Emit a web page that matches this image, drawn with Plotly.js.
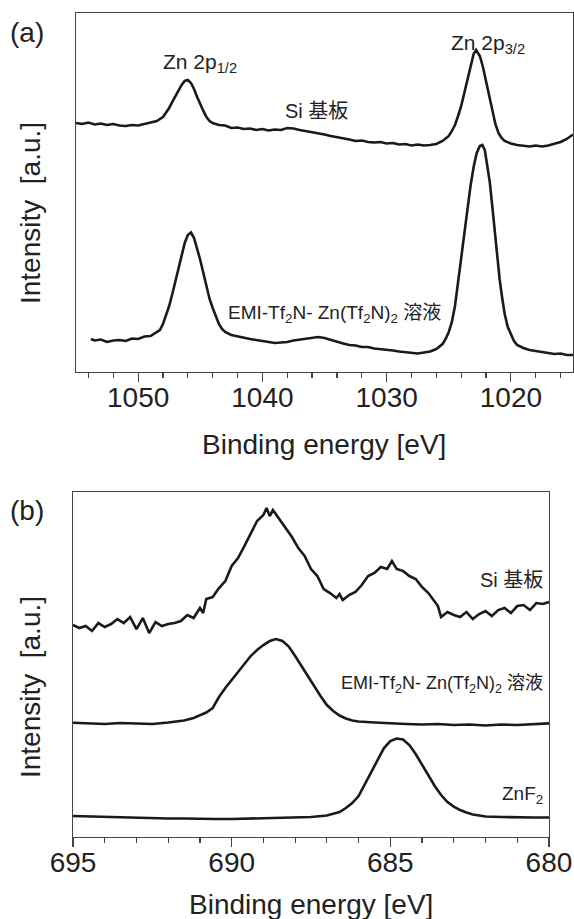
<!DOCTYPE html>
<html>
<head>
<meta charset="utf-8">
<script src="https://cdn.plot.ly/plotly-3.0.1.min.js"></script>
<style>
html,body{margin:0;padding:0;background:#fff;}
#chart{width:574px;height:919px;}
</style>
</head>
<body>
<div id="chart"></div>
<script>
// ---------- Panel (a): Zn 2p ----------
const energyA_Si = [1055.0,1054.5,1054.0,1053.5,1053.0,1052.5,1052.0,1051.5,1051.0,1050.5,1050.0,1049.5,1049.0,1048.5,1048.0,1047.75,1047.5,1047.25,1047.0,1046.75,1046.5,1046.25,1046.0,1045.75,1045.5,1045.25,1045.0,1044.75,1044.5,1044.25,1044.0,1043.5,1043.0,1042.5,1042.0,1041.5,1041.0,1040.5,1040.0,1039.5,1039.0,1038.5,1038.0,1037.5,1037.0,1036.5,1036.0,1035.5,1035.0,1034.5,1034.0,1033.5,1033.0,1032.5,1032.0,1031.5,1031.0,1030.5,1030.0,1029.5,1029.0,1028.5,1028.0,1027.5,1027.0,1026.5,1026.0,1025.5,1025.0,1024.75,1024.5,1024.25,1024.0,1023.75,1023.5,1023.25,1023.0,1022.8,1022.5,1022.25,1022.0,1021.75,1021.5,1021.25,1021.0,1020.75,1020.5,1020.0,1019.5,1019.0,1018.5,1018.0,1017.5,1017.0,1016.5,1016.0,1015.5,1015.0];
const intensityA_Si = [249,248,249.5,247.5,248.5,247,248,246.5,246,247,246.5,248,249,251,255,259,264,270,276,282,287,291,292,289,283,275,267,261,255,251,249,247,246.5,244,244.5,243,243.5,242,243,241.5,242.5,242,244,243.5,242,241,240,238.5,237.5,236,235,233.5,232.5,231,231.5,230,229.5,230,228.5,229,227.5,228,226.5,227.5,226.5,227,228,231,236,241,247,256,266,279,293,307,318,322,316,305,291,276,261,248,239,234,231,228.5,227,226,225.5,226.5,225.5,226.5,228,230,233,237.5];

const energyA_Sol = [1053.8,1053.5,1053.0,1052.5,1052.0,1051.5,1051.0,1050.5,1050.0,1049.5,1049.0,1048.5,1048.25,1048.0,1047.75,1047.5,1047.25,1047.0,1046.75,1046.5,1046.25,1046.0,1045.75,1045.5,1045.25,1045.0,1044.75,1044.5,1044.25,1044.0,1043.75,1043.5,1043.25,1043.0,1042.5,1042.0,1041.5,1041.0,1040.5,1040.0,1039.5,1039.0,1038.5,1038.0,1037.5,1037.0,1036.5,1036.0,1035.5,1035.0,1034.5,1034.0,1033.5,1033.0,1032.5,1032.0,1031.5,1031.0,1030.5,1030.0,1029.5,1029.0,1028.5,1028.0,1027.5,1027.0,1026.5,1026.0,1025.5,1025.25,1025.0,1024.75,1024.5,1024.25,1024.0,1023.75,1023.5,1023.25,1023.0,1022.75,1022.5,1022.3,1022.1,1021.9,1021.7,1021.5,1021.3,1021.1,1020.9,1020.7,1020.5,1020.25,1020.0,1019.75,1019.5,1019.0,1018.5,1018.0,1017.5,1017.0,1016.5,1016.0,1015.5,1015.0];
const intensityA_Sol = [33,31.5,32.5,30,31.5,32,31,33.5,33,35.5,36,39.5,42,48,56,66,78,91,103,117,129,137,139.5,134,124,112,99,85,73,64,55,48,43,40,37,35.5,34,33,32,31,30.5,29,29.5,30,31.5,32.5,33,34,35,34,32,30,28.5,27,26.5,25,25,23.5,23,22,21.5,20.5,20,19,18.5,19.5,20.5,23,28,33,40,50,66,90,115,142,165,186,205,219,226,227,222,208,190,166,141,115,92,74,58,45,37,31,27,24,22,21,20,19.5,18,18.5,17,17];

const ticksA = [1050,1040,1030,1020];

// ---------- Panel (b): F 1s ----------
const energyB_Si = [695.0,694.8,694.6,694.4,694.2,694.0,693.8,693.6,693.4,693.2,693.0,692.8,692.6,692.4,692.2,692.0,691.8,691.6,691.4,691.2,691.0,690.9,690.8,690.6,690.4,690.2,690.0,689.8,689.6,689.4,689.2,689.0,688.9,688.8,688.7,688.5,688.3,688.1,687.9,687.7,687.5,687.3,687.1,686.9,686.7,686.6,686.5,686.3,686.1,685.9,685.7,685.5,685.3,685.1,684.95,684.8,684.6,684.4,684.2,684.0,683.8,683.6,683.5,683.4,683.2,683.0,682.8,682.6,682.4,682.2,682.0,681.8,681.6,681.4,681.2,681.0,680.8,680.6,680.4,680.2,680.0];
const intensityB_Si = [212,209,211,206,214,210,213,218,214,220,208,219,204,215,211,213,214,216,222,219,229,224,238,240,249,256,271,279,291,304,316,322,329,321,327,318,309,300,289,281,268,261,248,244,239,243,237,242,245,252,261,264,270,268,276,268,266,261,258,250,244,236,231,220,225,222,220,225,218,223,226,221,227,229,224,231,232,227,234,233,235];

const energyB_Sol = [695.0,694.5,694.0,693.5,693.0,692.5,692.0,691.5,691.2,691.0,690.8,690.6,690.4,690.2,690.0,689.8,689.6,689.4,689.2,689.0,688.8,688.6,688.4,688.2,688.0,687.8,687.6,687.4,687.2,687.0,686.8,686.6,686.4,686.2,686.0,685.5,685.0,684.5,684.0,683.5,683.0,682.5,682.0,681.5,681.0,680.5,680.0];
const intensityB_Sol = [114.3,113.5,113,114,113.5,113,114.5,116.5,119,121.5,124.5,129,140,149,157,166,174,181,187,192,196,198,196,190.5,181,171,160,150,141,132,126,121.5,118.5,116.5,115.5,114.5,113.5,113,112.5,113,112,112.5,111.5,112.5,112,112.5,113.7];

const energyB_ZnF2 = [695.0,694.5,694.0,693.5,693.0,692.5,692.0,691.5,691.0,690.5,690.0,689.5,689.0,688.5,688.0,687.5,687.0,686.8,686.6,686.4,686.2,686.0,685.8,685.6,685.4,685.2,685.0,684.8,684.6,684.4,684.2,684.0,683.8,683.6,683.4,683.2,683.0,682.8,682.6,682.4,682.2,682.0,681.5,681.0,680.5,680.0];
const intensityB_ZnF2 = [21,20.5,20,20,19.5,19,18.5,18.5,18,18,18,18.5,18.5,19,19.5,20,21.5,23,25,29,34,41,53,65,78,89,96,98.5,97.5,92,83,72,62,51,42,35,30.5,27,24.5,22.5,21.5,20.5,20,19.5,19.5,19.5];

const ticksB = [695,690,685,680];

// ---------- Drawing ----------
const FONT = '"Liberation Sans", Arial, "Noto Sans CJK JP", sans-serif';
const INK = '#1a1a1a';
const TXT = '#222';
const lineStyle = {color: INK, width: 2.6};

const traces = [
  {x: energyA_Si, y: intensityA_Si, xaxis: 'x', yaxis: 'y', mode: 'lines', line: lineStyle, hoverinfo: 'skip'},
  {x: energyA_Sol, y: intensityA_Sol, xaxis: 'x', yaxis: 'y', mode: 'lines', line: lineStyle, hoverinfo: 'skip'},
  {x: energyB_Si, y: intensityB_Si, xaxis: 'x2', yaxis: 'y2', mode: 'lines', line: lineStyle, hoverinfo: 'skip'},
  {x: energyB_Sol, y: intensityB_Sol, xaxis: 'x2', yaxis: 'y2', mode: 'lines', line: lineStyle, hoverinfo: 'skip'},
  {x: energyB_ZnF2, y: intensityB_ZnF2, xaxis: 'x2', yaxis: 'y2', mode: 'lines', line: lineStyle, hoverinfo: 'skip'}
];

const axisLine = {showline: true, mirror: true, linecolor: '#444', linewidth: 1.2, showgrid: false, zeroline: false};

function ann(xref, yref, x, y, text, size, extra) {
  return Object.assign({xref: xref, yref: yref, x: x, y: y, text: text, showarrow: false,
    xanchor: 'center', yanchor: 'middle', font: {size: size, family: FONT, color: TXT}}, extra || {});
}

const layout = {
  width: 574, height: 919,
  margin: {l: 0, r: 0, t: 0, b: 0},
  paper_bgcolor: '#fff', plot_bgcolor: '#fff',
  showlegend: false,
  font: {family: FONT, color: TXT},
  xaxis: Object.assign({}, axisLine, {
    domain: [0.1324, 0.9983], anchor: 'y', range: [1055, 1015],
    tickmode: 'array', tickvals: ticksA, ticktext: ticksA.map(String),
    ticks: 'outside', ticklen: 9, tickcolor: '#444', tickwidth: 1.2,
    ticklabelstandoff: -9,
    tickfont: {family: FONT, size: 28, color: TXT},
    minor: {dtick: 2, tick0: 0, ticks: 'outside', ticklen: 5, tickcolor: '#444', tickwidth: 1.2, showgrid: false}
  }),
  yaxis: Object.assign({}, axisLine, {
    domain: [0.5952, 0.9859], anchor: 'x', range: [0, 359],
    showticklabels: false, ticks: ''
  }),
  xaxis2: Object.assign({}, axisLine, {
    domain: [0.1272, 0.9564], anchor: 'y2', range: [695, 680],
    tickmode: 'array', tickvals: ticksB, ticktext: ticksB.map(String),
    ticks: 'outside', ticklen: 9, tickcolor: '#444', tickwidth: 1.2,
    ticklabelstandoff: -9,
    tickfont: {family: FONT, size: 28, color: TXT},
    minor: {dtick: 1, tick0: 0, ticks: 'outside', ticklen: 5, tickcolor: '#444', tickwidth: 1.2, showgrid: false}
  }),
  yaxis2: Object.assign({}, axisLine, {
    domain: [0.0892, 0.4646], anchor: 'x2', range: [0, 345],
    showticklabels: false, ticks: ''
  }),
  annotations: [
    // panel letters
    ann('paper', 'paper', 0.047, 0.9641, '(a)', 28),
    ann('paper', 'paper', 0.047, 0.445, '(b)', 28),
    // y titles
    ann('paper', 'paper', 0.0523, 0.7682, 'Intensity\u00a0 [a.u.]', 28, {textangle: -90}),
    ann('paper', 'paper', 0.0523, 0.2524, 'Intensity\u00a0 [a.u.]', 28, {textangle: -90}),
    // x titles
    ann('paper', 'paper', 0.5653, 0.5158, 'Binding energy [eV]', 28),
    ann('paper', 'paper', 0.5418, 0.0163, 'Binding energy [eV]', 28),
    // panel (a) labels
    ann('x', 'y', 1045.0, 309, 'Zn 2p<sub>1/2</sub>', 21),
    ann('x', 'y', 1021.86, 328, 'Zn 2p<sub>3/2</sub>', 21),
    ann('x', 'y', 1035.66, 261, 'Si 基板', 20),
    ann('x', 'y', 1034.2, 58, 'EMI-Tf<sub>2</sub>N- Zn(Tf<sub>2</sub>N)<sub>2</sub> 溶液', 19),
    // panel (b) labels
    ann('x2', 'y2', 680.13, 257, 'Si 基板', 20, {xanchor: 'right'}),
    ann('x2', 'y2', 680.13, 153, 'EMI-Tf<sub>2</sub>N- Zn(Tf<sub>2</sub>N)<sub>2</sub> 溶液', 18, {xanchor: 'right'}),
    ann('x2', 'y2', 680.13, 42, 'ZnF<sub>2</sub>', 19, {xanchor: 'right'})
  ]
};

Plotly.newPlot('chart', traces, layout, {staticPlot: true, displayModeBar: false});
</script>
</body>
</html>
